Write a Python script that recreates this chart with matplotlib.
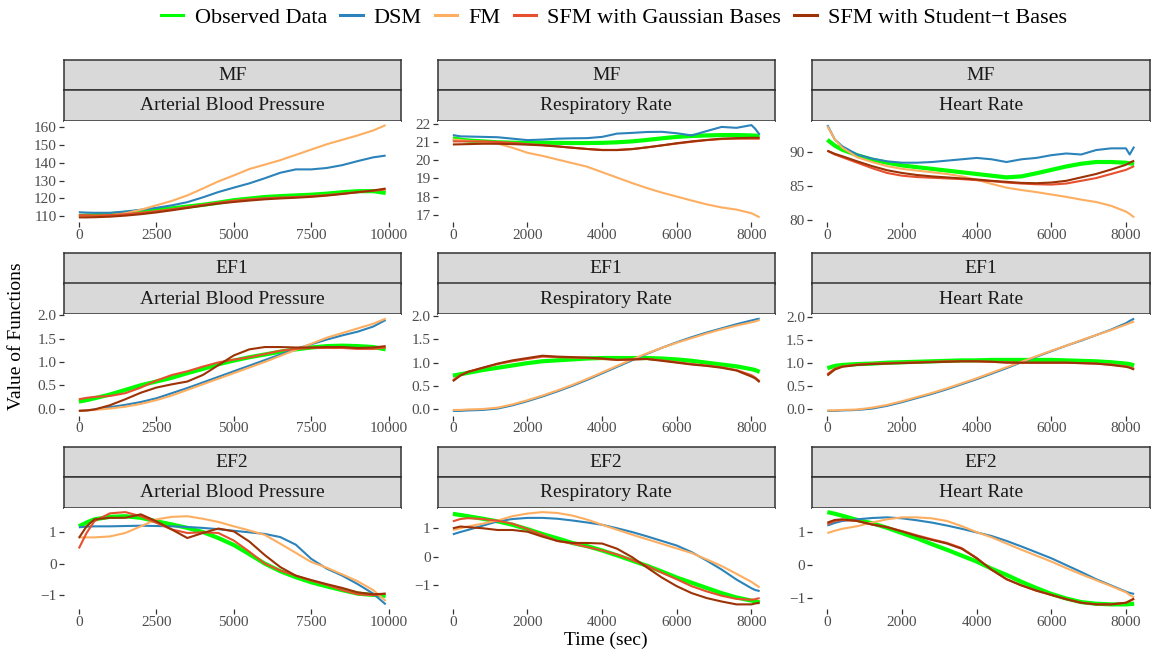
import numpy as np
import matplotlib
matplotlib.use("Agg")
import matplotlib.pyplot as plt
from matplotlib.ticker import FormatStrFormatter
from matplotlib.lines import Line2D

plt.rcParams['font.family'] = ['Liberation Serif', 'DejaVu Serif']

# ---- data ----
time_abp = [0, 250, 500, 1000, 1500, 2000, 2500, 3000, 3500, 4000, 4500,
            5000, 5500, 6000, 6500, 7000, 7500, 8000, 8500, 9000, 9500, 9900]
time_rr_hr = [0, 200, 400, 800, 1200, 1600, 2000, 2400, 2800, 3200, 3600, 4000,
              4400, 4800, 5200, 5600, 6000, 6400, 6800, 7200, 7600, 8000, 8100, 8220]

# MF
mf_abp_obs = [110, 110.2, 110.4, 111, 111.8, 112.6, 113.5, 114.3, 115.3, 116.3, 117.5, 118.9, 119.8, 120.7, 121.2, 121.6, 122, 122.6, 123.4, 124, 124, 123]
mf_abp_dsm = [112.1, 111.9, 111.8, 111.8, 112.5, 113.5, 114.6, 116, 117.8, 120.5, 123.5, 126, 128.4, 131.3, 134.4, 136.3, 136.3, 137.1, 138.7, 141, 143.1, 144.1]
mf_abp_fm = [109.6, 109.6, 109.8, 110.4, 111.5, 113.5, 116, 118.5, 121.6, 125.5, 129.5, 132.9, 136.5, 139, 141.5, 144.5, 147.5, 150.5, 153, 155.5, 158.3, 161.3]
mf_abp_gau = [110.5, 110.4, 110.3, 110.5, 111, 111.8, 112.7, 113.8, 115, 116.3, 117.5, 118.6, 119.4, 120, 120.4, 120.7, 121.2, 121.8, 122.6, 123.5, 124.2, 125]
mf_abp_stt = [109.2, 109.2, 109.3, 109.6, 110.2, 111, 112, 113.2, 114.5, 115.8, 117, 117.9, 118.7, 119.4, 119.9, 120.3, 120.8, 121.5, 122.4, 123.4, 124.4, 125.5]

mf_rr_obs = [21.22, 21.15, 21.1, 21.05, 21.0, 20.98, 20.97, 20.97, 20.97, 20.96, 20.96, 20.97, 21.0, 21.05, 21.13, 21.22, 21.3, 21.35, 21.38, 21.4, 21.4, 21.38, 21.37, 21.35]
mf_rr_dsm = [21.4, 21.33, 21.32, 21.3, 21.28, 21.2, 21.12, 21.15, 21.2, 21.22, 21.23, 21.3, 21.48, 21.52, 21.57, 21.58, 21.5, 21.38, 21.62, 21.85, 21.8, 21.95, 21.75, 21.42]
mf_rr_fm = [21.16, 21.12, 21.08, 21.03, 20.93, 20.7, 20.42, 20.25, 20.05, 19.85, 19.65, 19.35, 19.05, 18.75, 18.47, 18.22, 18.0, 17.78, 17.57, 17.4, 17.28, 17.08, 16.98, 16.85]
mf_rr_gau = [21.05, 21.05, 21.05, 21.05, 21.02, 20.97, 20.9, 20.85, 20.78, 20.7, 20.63, 20.58, 20.58, 20.63, 20.72, 20.83, 20.93, 21.03, 21.12, 21.18, 21.2, 21.2, 21.2, 21.2]
mf_rr_stt = [20.88, 20.89, 20.9, 20.92, 20.92, 20.9, 20.87, 20.83, 20.77, 20.7, 20.63, 20.57, 20.57, 20.62, 20.72, 20.83, 20.95, 21.05, 21.13, 21.2, 21.23, 21.25, 21.25, 21.25]

mf_hr_obs = [91.75, 90.9, 90.3, 89.5, 88.85, 88.4, 88.0, 87.75, 87.5, 87.25, 87.0, 86.75, 86.5, 86.25, 86.4, 86.85, 87.35, 87.85, 88.25, 88.5, 88.5, 88.4, 88.3, 88.25]
mf_hr_dsm = [93.9, 91.8, 90.8, 89.6, 89.0, 88.6, 88.4, 88.4, 88.5, 88.7, 88.9, 89.1, 88.9, 88.5, 88.9, 89.1, 89.5, 89.75, 89.6, 90.25, 90.5, 90.5, 89.6, 90.75]
mf_hr_fm = [93.75, 91.8, 90.6, 89.2, 88.5, 87.9, 87.5, 87.25, 87.0, 86.75, 86.4, 85.9, 85.3, 84.75, 84.4, 84.1, 83.75, 83.4, 83.0, 82.65, 82.1, 81.25, 80.9, 80.4]
mf_hr_gau = [90.15, 89.6, 89.2, 88.4, 87.6, 86.9, 86.5, 86.3, 86.2, 86.1, 86.0, 85.85, 85.7, 85.5, 85.35, 85.25, 85.2, 85.35, 85.75, 86.15, 86.75, 87.35, 87.6, 87.9]
mf_hr_stt = [90.15, 89.7, 89.35, 88.6, 87.9, 87.3, 86.9, 86.6, 86.4, 86.25, 86.1, 85.95, 85.75, 85.6, 85.45, 85.4, 85.5, 85.75, 86.25, 86.75, 87.4, 88.1, 88.4, 88.7]

# EF1
ef1_abp_obs = [0.15, 0.18, 0.22, 0.3, 0.4, 0.5, 0.58, 0.66, 0.76, 0.85, 0.95, 1.03, 1.1, 1.16, 1.22, 1.27, 1.31, 1.34, 1.35, 1.34, 1.32, 1.27]
ef1_abp_dsm = [-0.05, -0.04, -0.02, 0.03, 0.08, 0.14, 0.22, 0.33, 0.44, 0.56, 0.68, 0.8, 0.92, 1.04, 1.16, 1.28, 1.38, 1.48, 1.57, 1.65, 1.76, 1.9]
ef1_abp_fm = [-0.05, -0.04, -0.03, 0.0, 0.04, 0.1, 0.18, 0.28, 0.4, 0.52, 0.64, 0.76, 0.88, 1.0, 1.13, 1.26, 1.39, 1.52, 1.62, 1.72, 1.82, 1.93]
ef1_abp_gau = [0.2, 0.23, 0.25, 0.27, 0.33, 0.45, 0.6, 0.72, 0.8, 0.9, 0.99, 1.05, 1.1, 1.17, 1.24, 1.28, 1.3, 1.3, 1.3, 1.28, 1.28, 1.31]
ef1_abp_stt = [-0.05, -0.04, -0.02, 0.07, 0.2, 0.34, 0.45, 0.52, 0.58, 0.72, 0.93, 1.14, 1.27, 1.32, 1.32, 1.31, 1.31, 1.32, 1.32, 1.3, 1.31, 1.34]

ef1_rr_obs = [0.72, 0.75, 0.78, 0.84, 0.89, 0.94, 0.99, 1.03, 1.05, 1.07, 1.09, 1.1, 1.1, 1.1, 1.1, 1.09, 1.07, 1.04, 1.0, 0.96, 0.92, 0.86, 0.84, 0.8]
ef1_rr_dsm = [-0.04, -0.04, -0.03, -0.02, 0.01, 0.08, 0.17, 0.27, 0.38, 0.5, 0.63, 0.77, 0.91, 1.05, 1.19, 1.32, 1.44, 1.55, 1.65, 1.74, 1.83, 1.91, 1.93, 1.95]
ef1_rr_fm = [-0.02, -0.02, -0.01, 0.0, 0.03, 0.1, 0.19, 0.29, 0.4, 0.52, 0.65, 0.79, 0.93, 1.07, 1.2, 1.32, 1.43, 1.53, 1.63, 1.72, 1.8, 1.87, 1.89, 1.92]
ef1_rr_gau = [0.62, 0.73, 0.8, 0.89, 0.97, 1.03, 1.08, 1.13, 1.12, 1.11, 1.1, 1.08, 1.06, 1.07, 1.08, 1.05, 1.01, 0.97, 0.94, 0.9, 0.84, 0.73, 0.68, 0.6]
ef1_rr_stt = [0.6, 0.72, 0.8, 0.89, 0.98, 1.05, 1.1, 1.15, 1.13, 1.12, 1.11, 1.09, 1.06, 1.07, 1.08, 1.04, 1.0, 0.96, 0.93, 0.89, 0.83, 0.7, 0.66, 0.58]

ef1_hr_obs = [0.89, 0.94, 0.96, 0.98, 0.99, 1.01, 1.02, 1.03, 1.04, 1.05, 1.06, 1.06, 1.07, 1.07, 1.07, 1.07, 1.07, 1.06, 1.05, 1.04, 1.02, 0.99, 0.98, 0.95]
ef1_hr_dsm = [-0.04, -0.04, -0.03, -0.02, 0.01, 0.07, 0.15, 0.24, 0.33, 0.43, 0.54, 0.65, 0.77, 0.89, 1.02, 1.14, 1.26, 1.38, 1.49, 1.61, 1.73, 1.87, 1.92, 1.97]
ef1_hr_fm = [-0.03, -0.03, -0.02, -0.01, 0.03, 0.09, 0.17, 0.26, 0.35, 0.45, 0.56, 0.67, 0.79, 0.91, 1.03, 1.15, 1.27, 1.38, 1.5, 1.61, 1.72, 1.84, 1.87, 1.91]
ef1_hr_gau = [0.76, 0.88, 0.93, 0.97, 0.99, 1.0, 1.01, 1.02, 1.03, 1.04, 1.04, 1.04, 1.03, 1.02, 1.01, 1.01, 1.01, 1.01, 1.0, 0.99, 0.97, 0.93, 0.91, 0.88]
ef1_hr_stt = [0.73, 0.86, 0.92, 0.96, 0.98, 0.99, 1.0, 1.01, 1.02, 1.03, 1.04, 1.04, 1.03, 1.01, 1.01, 1.01, 1.01, 1.01, 1.0, 0.99, 0.96, 0.92, 0.9, 0.86]

# EF2
ef2_abp_obs = [1.18, 1.3, 1.4, 1.48, 1.5, 1.45, 1.34, 1.24, 1.13, 1.0, 0.81, 0.59, 0.3, 0.0, -0.24, -0.43, -0.59, -0.72, -0.84, -0.95, -0.99, -1.02]
ef2_abp_dsm = [1.15, 1.17, 1.18, 1.18, 1.19, 1.2, 1.19, 1.18, 1.16, 1.13, 1.09, 1.04, 0.99, 0.94, 0.84, 0.6, 0.15, -0.16, -0.38, -0.65, -0.95, -1.29]
ef2_abp_fm = [0.83, 0.83, 0.83, 0.86, 0.97, 1.18, 1.4, 1.48, 1.5, 1.42, 1.32, 1.18, 1.05, 0.91, 0.63, 0.34, 0.05, -0.13, -0.34, -0.56, -0.84, -1.18]
ef2_abp_gau = [0.48, 0.97, 1.34, 1.59, 1.63, 1.5, 1.29, 1.08, 0.97, 0.99, 0.97, 0.73, 0.38, 0.0, -0.22, -0.38, -0.54, -0.67, -0.84, -0.97, -1.0, -0.95]
ef2_abp_stt = [0.81, 1.18, 1.4, 1.45, 1.45, 1.56, 1.34, 1.08, 0.81, 0.97, 1.11, 1.02, 0.7, 0.27, -0.11, -0.38, -0.52, -0.65, -0.77, -0.91, -0.97, -0.95]

ef2_rr_obs = [1.48, 1.44, 1.4, 1.31, 1.22, 1.1, 0.95, 0.78, 0.63, 0.47, 0.36, 0.21, 0.04, -0.14, -0.32, -0.52, -0.73, -0.91, -1.09, -1.27, -1.42, -1.53, -1.56, -1.59]
ef2_rr_dsm = [0.77, 0.85, 0.92, 1.07, 1.22, 1.3, 1.34, 1.34, 1.31, 1.25, 1.18, 1.1, 0.98, 0.85, 0.7, 0.54, 0.38, 0.15, -0.14, -0.45, -0.8, -1.1, -1.16, -1.2]
ef2_rr_fm = [0.92, 0.98, 1.04, 1.14, 1.25, 1.4, 1.49, 1.54, 1.51, 1.42, 1.28, 1.1, 0.93, 0.76, 0.6, 0.44, 0.28, 0.12, -0.1, -0.33, -0.6, -0.88, -0.97, -1.07]
ef2_rr_gau = [1.22, 1.3, 1.33, 1.3, 1.24, 1.14, 0.95, 0.75, 0.54, 0.45, 0.33, 0.21, 0.07, -0.12, -0.32, -0.56, -0.79, -1.03, -1.21, -1.36, -1.47, -1.5, -1.48, -1.44]
ef2_rr_stt = [0.98, 1.04, 1.02, 0.98, 0.92, 0.92, 0.86, 0.69, 0.54, 0.47, 0.47, 0.45, 0.27, -0.02, -0.38, -0.73, -1.03, -1.27, -1.44, -1.56, -1.66, -1.66, -1.63, -1.6]

ef2_hr_obs = [1.62, 1.57, 1.51, 1.38, 1.28, 1.14, 0.98, 0.82, 0.64, 0.47, 0.29, 0.11, -0.11, -0.3, -0.51, -0.7, -0.88, -1.02, -1.13, -1.18, -1.2, -1.2, -1.19, -1.18]
ef2_hr_dsm = [1.21, 1.29, 1.35, 1.4, 1.44, 1.46, 1.43, 1.37, 1.3, 1.21, 1.11, 1.0, 0.89, 0.74, 0.57, 0.39, 0.21, 0.0, -0.21, -0.43, -0.62, -0.81, -0.85, -0.88]
ef2_hr_fm = [0.98, 1.05, 1.11, 1.19, 1.3, 1.4, 1.46, 1.46, 1.43, 1.35, 1.19, 1.01, 0.85, 0.66, 0.47, 0.29, 0.11, -0.09, -0.28, -0.46, -0.64, -0.83, -0.91, -0.99]
ef2_hr_gau = [1.25, 1.35, 1.38, 1.35, 1.24, 1.16, 1.04, 0.91, 0.79, 0.68, 0.52, 0.22, -0.14, -0.43, -0.62, -0.78, -0.91, -1.04, -1.15, -1.2, -1.2, -1.15, -1.1, -1.03]
ef2_hr_stt = [1.3, 1.38, 1.4, 1.35, 1.24, 1.16, 1.03, 0.89, 0.77, 0.66, 0.5, 0.21, -0.14, -0.43, -0.62, -0.78, -0.91, -1.04, -1.15, -1.2, -1.2, -1.15, -1.09, -1.02]

rows = ["MF", "EF1", "EF2"]
cols = ["Arterial Blood Pressure", "Respiratory Rate", "Heart Rate"]
methods = ["Observed Data", "DSM", "FM", "SFM with Gaussian Bases", "SFM with Student\u2212t Bases"]
colors = ["#00FF00", "#2B83BA", "#FDAE61", "#E6502F", "#9C3206"]
widths = [3.0, 1.5, 1.5, 1.5, 1.5]

panel_data = {
    ("MF", 0): [mf_abp_obs, mf_abp_dsm, mf_abp_fm, mf_abp_gau, mf_abp_stt],
    ("MF", 1): [mf_rr_obs, mf_rr_dsm, mf_rr_fm, mf_rr_gau, mf_rr_stt],
    ("MF", 2): [mf_hr_obs, mf_hr_dsm, mf_hr_fm, mf_hr_gau, mf_hr_stt],
    ("EF1", 0): [ef1_abp_obs, ef1_abp_dsm, ef1_abp_fm, ef1_abp_gau, ef1_abp_stt],
    ("EF1", 1): [ef1_rr_obs, ef1_rr_dsm, ef1_rr_fm, ef1_rr_gau, ef1_rr_stt],
    ("EF1", 2): [ef1_hr_obs, ef1_hr_dsm, ef1_hr_fm, ef1_hr_gau, ef1_hr_stt],
    ("EF2", 0): [ef2_abp_obs, ef2_abp_dsm, ef2_abp_fm, ef2_abp_gau, ef2_abp_stt],
    ("EF2", 1): [ef2_rr_obs, ef2_rr_dsm, ef2_rr_fm, ef2_rr_gau, ef2_rr_stt],
    ("EF2", 2): [ef2_hr_obs, ef2_hr_dsm, ef2_hr_fm, ef2_hr_gau, ef2_hr_stt],
}
yticks = {
    ("MF", 0): [110, 120, 130, 140, 150, 160],
    ("MF", 1): [17, 18, 19, 20, 21, 22],
    ("MF", 2): [80, 85, 90],
}
xticks_abp = [0, 2500, 5000, 7500, 10000]
xticks_rr_hr = [0, 2000, 4000, 6000, 8000]

# ---- layout in pixels ----
W, H = 1151, 654
fig = plt.figure(figsize=(W / 100, H / 100), dpi=100)

col_left = [63.5, 437.5, 812.0]
col_w = 337.5
row_top = [59.5, 253.0, 446.5]
strip_h = 30.5
panel_h = 101.5


def px_axes(x, y, w, h):
    return fig.add_axes([x / W, 1 - (y + h) / H, w / W, h / H])


for r, rname in enumerate(rows):
    for c, cname in enumerate(cols):
        x0 = col_left[c]
        y0 = row_top[r]
        # strips
        for k, label in enumerate([rname, cname]):
            sa = px_axes(x0, y0 + k * strip_h, col_w, strip_h)
            sa.set_facecolor("#D9D9D9")
            sa.set_xticks([])
            sa.set_yticks([])
            for sp in sa.spines.values():
                sp.set_color("#333333")
                sp.set_linewidth(1.1)
            sa.text(0.5, 0.48, label, ha="center", va="center", fontsize=14,
                    color="#1A1A1A", transform=sa.transAxes)

        ax = px_axes(x0, y0 + 2 * strip_h, col_w, panel_h)
        xs = time_abp if c == 0 else time_rr_hr
        for series, col, lw in zip(panel_data[(rname, c)], colors, widths):
            ax.plot(xs, series, color=col, lw=lw, solid_capstyle="butt")
        ax.margins(x=0.05, y=0.05)
        xl = ax.get_xlim()
        yl = ax.get_ylim()
        ax.set_xticks(xticks_abp if c == 0 else xticks_rr_hr)
        if rname == "MF":
            ax.set_yticks(yticks[(rname, c)])
        elif rname == "EF1":
            ax.set_yticks([0.0, 0.5, 1.0, 1.5, 2.0])
            ax.yaxis.set_major_formatter(FormatStrFormatter("%.1f"))
        else:
            ax.set_yticks([-1, 0, 1])
        ax.set_xlim(xl)
        ax.set_ylim(yl)
        for sp in ax.spines.values():
            sp.set_visible(False)
        ax.tick_params(axis="both", length=3.5, width=0.9, color="#333333",
                       labelcolor="#4D4D4D", labelsize=11, pad=1.5)

# legend
handles = [Line2D([0], [0], color=col, lw=2.2) for col in colors]
fig.legend(handles, methods, loc="center", bbox_to_anchor=(614 / W, 1 - 18 / H),
           ncol=5, frameon=False, fontsize=16, handlelength=1.0,
           handletextpad=0.5, columnspacing=0.6)

fig.text(17 / W, 1 - 336 / H, "Value of Functions", rotation=90, ha="center",
         va="center", fontsize=14)
fig.text(606 / W, 1 - 640 / H, "Time (sec)", ha="center", va="center", fontsize=14)

fig.savefig("out.png", dpi=100)
